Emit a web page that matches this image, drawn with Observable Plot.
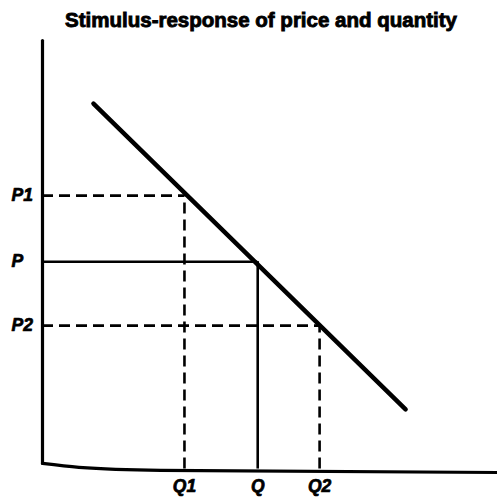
<!DOCTYPE html>
<html><head><meta charset="utf-8">
<script src="https://cdn.jsdelivr.net/npm/d3@7"></script>
<script src="https://cdn.jsdelivr.net/npm/@observablehq/plot@0.6"></script>
<style>
body{margin:0;background:#fff;}
#title{box-sizing:border-box;width:497px;height:36px;padding-top:9px;padding-left:25px;text-align:center;font:bold 20.5px "Liberation Sans",Arial,sans-serif;line-height:22px;color:#000;-webkit-text-stroke:0.9px #000;}
#chart svg{display:block;}
</style></head><body>
<div id="title">Stimulus-response of price and quantity</div>
<div id="chart"></div>
<script>
const priceLabels = ["P1", "P", "P2"];
const priceValues = [6.41, 4.88, 3.40];
const quantityLabels = ["Q1", "Q", "Q2"];
const quantityValues = [3.12, 4.73, 6.09];
const dashedFlags = [true, false, true];
const demandX = [1.12, 7.98];
const demandY = [8.54, 1.46];
const yAxisX = [0, 0];
const yAxisY = [0.21, 10];
const xAxisX = [0, 0.8, 2.6, 10];
const xAxisY = [0.21, 0.12, 0.05, 0];

const pts = priceValues.map((p, i) => ({p, q: quantityValues[i], pl: priceLabels[i], ql: quantityLabels[i], dashed: dashedFlags[i]}));
const demand = demandX.map((x, i) => ({x, y: demandY[i]}));
const yAxis = yAxisX.map((x, i) => ({x, y: yAxisY[i]}));
const xAxis = xAxisX.map((x, i) => ({x, y: xAxisY[i]}));
const dashedPts = pts.filter(d => d.dashed);
const solidPts = pts.filter(d => !d.dashed);
const font = "Liberation Sans, Arial, sans-serif";
const labelStyle = {fontSize: 17.5, fontWeight: "bold", fontStyle: "italic", fontFamily: font, fill: "#000", stroke: "#000", strokeWidth: 0.7};

const chart = Plot.plot({
  width: 497,
  height: 461,
  marginLeft: 42,
  marginRight: 0,
  marginTop: 4,
  marginBottom: 25,
  x: {domain: [0, 10], axis: null},
  y: {domain: [0, 10], axis: null},
  marks: [
    Plot.ruleY(dashedPts, {y: "p", x1: 0, x2: "q", stroke: "#000", strokeWidth: 2.6, strokeDasharray: "11,6"}),
    Plot.ruleX(dashedPts, {x: "q", y1: 0.08, y2: "p", stroke: "#000", strokeWidth: 2.6, strokeDasharray: "11,6"}),
    Plot.ruleY(solidPts, {y: "p", x1: 0, x2: "q", stroke: "#000", strokeWidth: 2.6}),
    Plot.ruleX(solidPts, {x: "q", y1: 0.08, y2: "p", stroke: "#000", strokeWidth: 2.6}),
    Plot.line(demand, {x: "x", y: "y", stroke: "#000", strokeWidth: 4.5, strokeLinecap: "round"}),
    Plot.line(yAxis, {x: "x", y: "y", stroke: "#000", strokeWidth: 3.2, strokeLinecap: "round"}),
    Plot.line(xAxis, {x: "x", y: "y", stroke: "#000", strokeWidth: 3.2, strokeLinecap: "round", curve: "monotone-x"}),
    Plot.text(pts, {x: 0, y: "p", text: "pl", dx: -31, textAnchor: "start", ...labelStyle}),
    Plot.text(pts, {x: "q", y: 0, text: "ql", dy: 14, textAnchor: "middle", ...labelStyle})
  ]
});
document.getElementById("chart").appendChild(chart);
</script>
</body></html>
